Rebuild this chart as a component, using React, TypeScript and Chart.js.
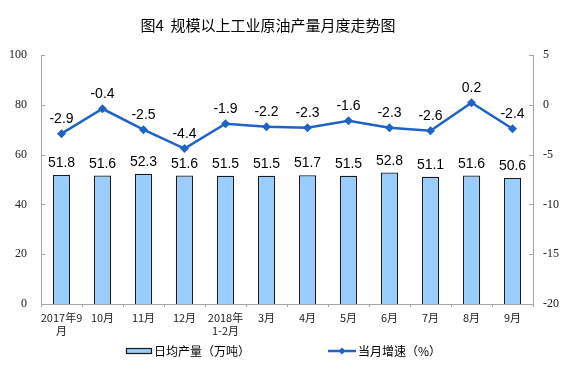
import React, { useEffect, useRef } from "react";
import { Chart, registerables } from "chart.js";

Chart.register(...registerables);

const categories: (string | string[])[] = [
  ["2017年9", "月"], "10月", "11月", "12月", ["2018年", "1-2月"], "3月", "4月", "5月", "6月", "7月", "8月", "9月",
];
const dailyOutput = [51.8, 51.6, 52.3, 51.6, 51.5, 51.5, 51.7, 51.5, 52.8, 51.1, 51.6, 50.6];
const growthRate = [-2.9, -0.4, -2.5, -4.4, -1.9, -2.2, -2.3, -1.6, -2.3, -2.6, 0.2, -2.4];
const leftTicks = [0, 20, 40, 60, 80, 100];
const rightTicks = [-20, -15, -10, -5, 0, 5];

const TITLE = "图4  规模以上工业原油产量月度走势图";
const BAR_LEGEND = "日均产量（万吨）";
const LINE_LEGEND = "当月增速（%）";

const BAR_FILL = "#99CCFF";
const BAR_BORDER = "#1a1a1a";
const LINE_COLOR = "#1F63C6";
const AXIS_COLOR = "#a6a6a6";

const decorPlugin = {
  id: "decor",
  afterDatasetsDraw(chart: any) {
    const ctx = chart.ctx as CanvasRenderingContext2D;
    const ca = chart.chartArea;
    ctx.save();
    // inward ticks on y axes
    ctx.strokeStyle = AXIS_COLOR;
    ctx.lineWidth = 1;
    const yL = chart.scales.y;
    const yR = chart.scales.y1;
    leftTicks.forEach((v) => {
      const py = Math.round(yL.getPixelForValue(v)) + 0.5;
      ctx.beginPath();
      ctx.moveTo(ca.left, py);
      ctx.lineTo(ca.left + 4, py);
      ctx.stroke();
    });
    rightTicks.forEach((v) => {
      const py = Math.round(yR.getPixelForValue(v)) + 0.5;
      ctx.beginPath();
      ctx.moveTo(ca.right, py);
      ctx.lineTo(ca.right - 4, py);
      ctx.stroke();
    });
    // data labels
    ctx.fillStyle = "#000";
    ctx.font = "14px 'Liberation Sans', Arial, sans-serif";
    ctx.textAlign = "center";
    ctx.textBaseline = "alphabetic";
    const barMeta = chart.getDatasetMeta(0);
    barMeta.data.forEach((el: any, i: number) => {
      ctx.fillText(dailyOutput[i].toFixed(1), el.x, el.y - 8);
    });
    const lineMeta = chart.getDatasetMeta(1);
    lineMeta.data.forEach((el: any, i: number) => {
      ctx.fillText(growthRate[i].toFixed(1), el.x, el.y - 11);
    });
    // title
    ctx.font = "400 15px 'Noto Sans CJK SC', sans-serif";
    ctx.textBaseline = "middle";
    ctx.fillText(TITLE, 268, 25);
    // legend
    ctx.font = "12px 'Noto Sans CJK SC', sans-serif";
    ctx.textAlign = "left";
    ctx.fillStyle = BAR_FILL;
    ctx.fillRect(126.5, 348.5, 25, 5);
    ctx.strokeStyle = BAR_BORDER;
    ctx.lineWidth = 1.2;
    ctx.strokeRect(126.5, 348.5, 25, 5);
    ctx.fillStyle = "#000";
    ctx.fillText(BAR_LEGEND, 154, 351);
    ctx.strokeStyle = LINE_COLOR;
    ctx.lineWidth = 2.5;
    ctx.beginPath();
    ctx.moveTo(328, 351);
    ctx.lineTo(356, 351);
    ctx.stroke();
    ctx.fillStyle = LINE_COLOR;
    ctx.beginPath();
    ctx.moveTo(342, 347.5);
    ctx.lineTo(345.5, 351);
    ctx.lineTo(342, 354.5);
    ctx.lineTo(338.5, 351);
    ctx.closePath();
    ctx.fill();
    ctx.fillStyle = "#000";
    ctx.fillText(LINE_LEGEND, 358, 351);
    ctx.restore();
  },
};

export default function App() {
  const ref = useRef<HTMLCanvasElement | null>(null);
  useEffect(() => {
    document.body.style.margin = "0";
    const canvas = ref.current!;
    const chart = new Chart(canvas, {
      type: "bar",
      data: {
        labels: categories as any,
        datasets: [
          {
            type: "bar",
            label: BAR_LEGEND,
            data: dailyOutput,
            backgroundColor: BAR_FILL,
            borderColor: BAR_BORDER,
            borderWidth: 1.3,
            yAxisID: "y",
            barPercentage: 0.42,
            categoryPercentage: 1,
            order: 2,
          },
          {
            type: "line",
            label: LINE_LEGEND,
            data: growthRate,
            borderColor: LINE_COLOR,
            backgroundColor: LINE_COLOR,
            borderWidth: 2.5,
            pointStyle: "rectRot",
            pointRadius: 4.5,
            pointBorderWidth: 0,
            tension: 0,
            yAxisID: "y1",
            order: 1,
          } as any,
        ],
      },
      options: {
        responsive: false,
        animation: false,
        layout: { padding: { top: 55, left: 0, right: 0, bottom: 0 } },
        plugins: {
          legend: { display: false },
          title: { display: false },
          tooltip: { enabled: false },
        },
        scales: {
          x: {
            offset: true,
            grid: {
              offset: true,
              drawOnChartArea: false,
              drawTicks: true,
              tickLength: 3,
              color: AXIS_COLOR,
            },
            border: { color: AXIS_COLOR },
            ticks: {
              color: "#222",
              font: { family: "'Noto Sans CJK SC', sans-serif", size: 11 },
              padding: 4,
              maxRotation: 0,
              autoSkip: false,
            },
            afterFit: (s: any) => {
              s.height = 80;
            },
          },
          y: {
            position: "left",
            min: 0,
            max: 100,
            grid: { display: false, drawTicks: false },
            border: { color: AXIS_COLOR },
            ticks: {
              stepSize: 20,
              color: "#222",
              padding: 14,
              font: { family: "'Liberation Serif', 'Times New Roman', serif", size: 12 },
            },
            afterFit: (s: any) => {
              s.width = 41;
            },
          },
          y1: {
            position: "right",
            min: -20,
            max: 5,
            grid: { display: false, drawTicks: false },
            border: { color: AXIS_COLOR },
            ticks: {
              stepSize: 5,
              color: "#222",
              padding: 10,
              font: { family: "'Liberation Serif', 'Times New Roman', serif", size: 12 },
            },
            afterFit: (s: any) => {
              s.width = 43;
            },
          },
        },
      },
      plugins: [decorPlugin],
    });
    return () => chart.destroy();
  }, []);
  return (
    <div style={{ width: 576, height: 384, background: "#fff" }}>
      <canvas ref={ref} width={576} height={384} />
    </div>
  );
}
